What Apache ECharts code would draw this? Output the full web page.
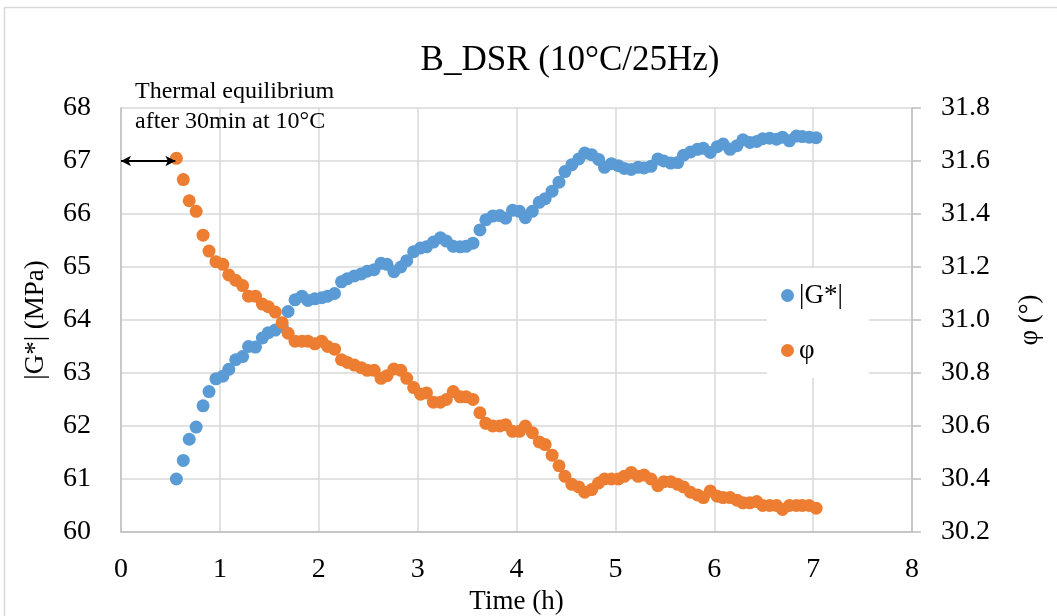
<!DOCTYPE html>
<html>
<head>
<meta charset="utf-8">
<script src="https://cdn.jsdelivr.net/npm/echarts@6/dist/echarts.min.js"></script>
<style>html,body{margin:0;padding:0;background:#fff}#c{width:1057px;height:616px}</style>
</head>
<body>
<div id="c"></div>
<script>
const timeH = [0.56,0.63,0.69,0.76,0.83,0.89,0.96,
1.03,1.09,1.16,1.23,1.29,1.36,1.43,1.49,1.56,1.63,1.69,1.76,1.83,1.89,1.96,
2.03,2.09,2.16,2.23,2.29,2.36,2.43,2.49,2.56,2.63,2.69,2.76,2.83,2.89,2.96,
3.03,3.09,3.16,3.23,3.29,3.36,3.43,3.49,3.56,3.63,3.69,3.76,3.83,3.89,3.96,
4.03,4.09,4.16,4.23,4.29,4.36,4.43,4.49,4.56,4.63,4.69,4.76,4.83,4.89,4.96,
5.03,5.09,5.16,5.23,5.29,5.36,5.43,5.49,5.56,5.63,5.69,5.76,5.83,5.89,5.96,
6.03,6.09,6.16,6.23,6.29,6.36,6.43,6.49,6.56,6.63,6.69,6.76,6.83,6.89,6.96,
7.03];
const gStar = [61.00,61.35,61.75,61.98,62.38,62.65,62.89,
62.94,63.07,63.25,63.31,63.50,63.49,63.66,63.76,63.81,63.88,64.16,64.38,64.45,64.37,64.40,
64.42,64.45,64.50,64.72,64.78,64.83,64.87,64.92,64.95,65.07,65.05,64.91,65.00,65.12,65.29,
65.36,65.38,65.47,65.55,65.49,65.39,65.38,65.39,65.45,65.70,65.89,65.96,65.97,65.92,66.07,
66.05,65.93,66.05,66.22,66.29,66.43,66.60,66.80,66.93,67.04,67.15,67.12,67.03,66.88,66.95,
66.91,66.86,66.84,66.88,66.87,66.90,67.04,67.00,66.96,66.97,67.11,67.17,67.22,67.24,67.16,
67.27,67.32,67.22,67.29,67.40,67.35,67.37,67.42,67.43,67.41,67.45,67.38,67.47,67.46,67.45,
67.44];
const phi = [31.61,31.53,31.45,31.41,31.32,31.26,31.22,
31.21,31.17,31.15,31.13,31.09,31.09,31.06,31.05,31.03,30.99,30.95,30.92,30.92,30.92,30.91,
30.92,30.90,30.89,30.85,30.84,30.83,30.82,30.81,30.81,30.78,30.79,30.815,30.81,30.78,30.745,
30.72,30.725,30.69,30.69,30.70,30.73,30.71,30.71,30.70,30.65,30.61,30.60,30.60,30.605,30.58,
30.58,30.60,30.575,30.54,30.53,30.49,30.45,30.41,30.38,30.37,30.35,30.36,30.385,30.40,30.40,
30.40,30.41,30.425,30.41,30.415,30.40,30.375,30.39,30.39,30.38,30.37,30.35,30.34,30.33,30.355,
30.335,30.33,30.33,30.32,30.31,30.31,30.315,30.30,30.30,30.30,30.285,30.30,30.30,30.30,30.30,
30.29];
const xTicks = [0,1,2,3,4,5,6,7,8];
const leftTicks = [60,61,62,63,64,65,66,67,68];
const rightTicks = ['30.2','30.4','30.6','30.8','31.0','31.2','31.4','31.6','31.8'];
const seriesNames = ['|G*|','φ'];
const equilibriumArrow = {from:0, to:0.55, level:67};

const FONT = '"Liberation Serif","Times New Roman",serif';
const chart = echarts.init(document.getElementById('c'));
const gData = timeH.map((t,i)=>[t,gStar[i]]);
const pData = timeH.map((t,i)=>[t,phi[i]]);
chart.setOption({
  animation:false,
  backgroundColor:'#fff',
  title:{text:'B_DSR (10°C/25Hz)',left:565,top:38,textAlign:'center',
    textStyle:{fontFamily:FONT,fontSize:35,fontWeight:'normal',color:'#000'}},
  grid:{left:121,right:145,top:108,bottom:84,containLabel:false,outerBoundsMode:'none'},
  legend:{orient:'vertical',left:767,top:268,width:100,
    data:seriesNames,icon:'circle',itemWidth:13,itemHeight:13,itemGap:28,
    padding:[14,26,14,14],backgroundColor:'#fff',
    textStyle:{fontFamily:FONT,fontSize:27,color:'#000'}},
  xAxis:{type:'value',min:0,max:8,interval:1,
    name:'Time (h)',nameLocation:'middle',nameGap:53,
    nameTextStyle:{fontFamily:FONT,fontSize:27,color:'#000'},
    axisLine:{show:true,lineStyle:{color:'#bfbfbf',width:1.5}},
    axisTick:{show:false},
    axisLabel:{fontFamily:FONT,fontSize:28,color:'#000',margin:24,
      formatter:v=>xTicks.includes(v)?String(v):''},
    splitLine:{show:true,lineStyle:{color:'#d9d9d9',width:1.5}}},
  yAxis:[
    {type:'value',min:60,max:68,interval:1,position:'left',
     name:'|G*| (MPa)',nameLocation:'middle',nameGap:72,
     nameTextStyle:{fontFamily:FONT,fontSize:27,color:'#000'},
     axisLine:{show:true,lineStyle:{color:'#bfbfbf',width:1.5}},
     axisTick:{show:false},
     axisLabel:{fontFamily:FONT,fontSize:28,color:'#000',margin:30,
       formatter:v=>leftTicks.includes(v)?String(v):''},
     splitLine:{show:true,lineStyle:{color:'#d9d9d9',width:1.5}}},
    {type:'value',min:30.2,max:31.8,interval:0.2,position:'right',
     name:'φ (°)',nameLocation:'middle',nameGap:104,nameRotate:90,
     nameTextStyle:{fontFamily:FONT,fontSize:27,color:'#000'},
     axisLine:{show:true,lineStyle:{color:'#bfbfbf',width:1.5}},
     axisTick:{show:true,inside:false,length:9,lineStyle:{color:'#bfbfbf',width:1.5}},
     axisLabel:{fontFamily:FONT,fontSize:28,color:'#000',margin:29,
       formatter:v=>{const i=Math.round((v-30.2)/0.2);return rightTicks[i]||'';}},
     splitLine:{show:false}}
  ],
  series:[
    {name:seriesNames[0],type:'scatter',yAxisIndex:0,data:gData,symbolSize:13,
     itemStyle:{color:'#5B9BD5',opacity:1},z:3,
     markLine:{silent:true,symbol:['arrow','arrow'],symbolSize:[8,10],
       label:{show:false},
       lineStyle:{color:'#000',width:2,type:'solid'},
       data:[[{coord:[equilibriumArrow.from,equilibriumArrow.level]},{coord:[equilibriumArrow.to,equilibriumArrow.level]}]]}},
    {name:seriesNames[1],type:'scatter',yAxisIndex:1,data:pData,symbolSize:13,
     itemStyle:{color:'#ED7D31',opacity:1},z:4}
  ],
  graphic:[
    {type:'rect',shape:{x:4.5,y:7.5,width:1100,height:700},style:{fill:'none',stroke:'#d9d9d9',lineWidth:1.5},silent:true,z:-1},
    {type:'text',left:135,top:77,style:{text:'Thermal equilibrium\nafter 30min at 10°C',fontFamily:FONT,fontSize:24,lineHeight:30,fill:'#000'},z:10}
  ]
});
</script>
</body>
</html>
